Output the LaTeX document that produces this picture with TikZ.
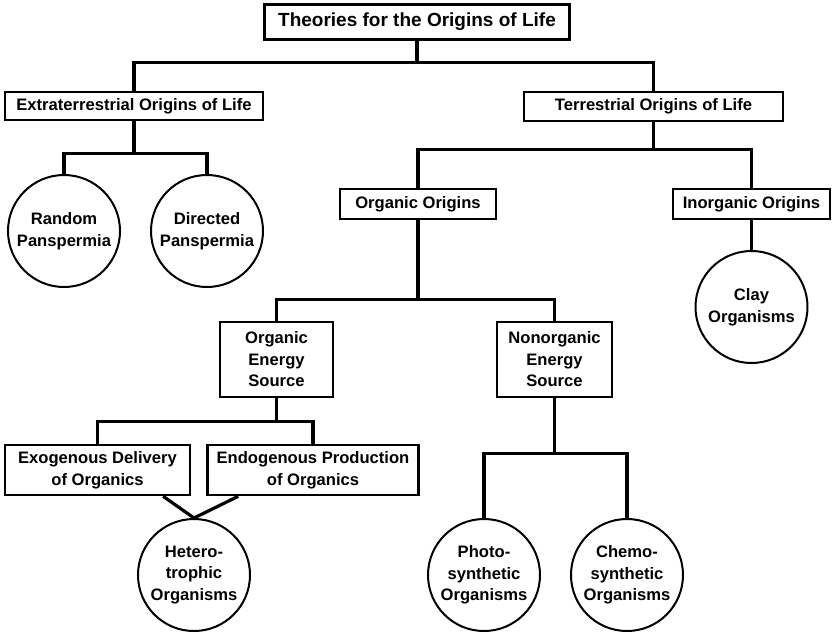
\documentclass[tikz,border=0pt]{standalone}
\usepackage{fontspec}
\setmainfont{Liberation Sans}
\usetikzlibrary{positioning,calc}

\begin{document}
\begin{tikzpicture}[x=1pt, y=-1pt,
    box/.style={draw, line width=2.6pt, inner sep=0pt, align=center,
        font=\fontsize{16.6}{21.5}\selectfont\bfseries},
    orgcircle/.style={draw, circle, line width=2pt, inner sep=0pt,
        minimum size=112pt, align=center,
        font=\fontsize{16.6}{21.5}\selectfont\bfseries},
    link/.style={line width=3.2pt}]
    \useasboundingbox (0,0) rectangle (833,633);

    % top level
    \node[box, minimum width=305pt, minimum height=35pt,
        font=\fontsize{19}{23}\selectfont\bfseries] (title) at (417,22) {Theories for the Origins of Life};
    \node[box, minimum width=258pt, minimum height=28pt] (extra) at (134,106) {Extraterrestrial Origins of Life};
    \node[box, minimum width=259pt, minimum height=29pt] (terr) at (653.5,106.5) {Terrestrial Origins of Life};

    % extraterrestrial branch
    \node[orgcircle] (random) at (64,231) {Random\\Panspermia};
    \node[orgcircle] (directed) at (207,231) {Directed\\Panspermia};

    % terrestrial branch
    \node[box, minimum width=156pt, minimum height=30pt] (orgorig) at (418,204) {Organic Origins};
    \node[box, minimum width=157pt, minimum height=30pt] (inorg) at (751.5,204) {Inorganic Origins};
    \node[orgcircle] (clay) at (751.5,307) {Clay\\Organisms};

    \node[box, minimum width=113pt, minimum height=75pt] (orgen) at (276.5,359.5) {Organic\\Energy\\Source};
    \node[box, minimum width=115pt, minimum height=75pt] (nonorg) at (554.5,359.5) {Nonorganic\\Energy\\Source};

    \node[box, minimum width=185pt, minimum height=50pt] (exo) at (97.5,470) {Exogenous Delivery\\of Organics};
    \node[box, minimum width=211pt, minimum height=50pt] (endo) at (313,470) {Endogenous Production\\of Organics};
    \node[orgcircle] (hetero) at (194,575) {Hetero-\\trophic\\Organisms};

    \node[orgcircle] (photo) at (484,575) {Photo-\\synthetic\\Organisms};
    \node[orgcircle] (chemo) at (627,575) {Chemo-\\synthetic\\Organisms};

    % connectors
    \draw[link] (title.south) -- ++(0,22) -| (extra.north);
    \draw[link] (title.south) -- ++(0,22) -| (terr.north);
    \draw[link] (extra.south) -- ++(0,32) -| (random.north);
    \draw[link] (extra.south) -- ++(0,32) -| (directed.north);
    \draw[link] (terr.south) -- ++(0,27) -| (orgorig.north);
    \draw[link] (terr.south) -- ++(0,27) -| (inorg.north);
    \draw[link] (inorg.south) -- (clay.north);
    \draw[link] (orgorig.south) -- ++(0,79) -| (orgen.north);
    \draw[link] (orgorig.south) -- ++(0,79) -| (nonorg.north);
    \draw[link] (orgen.south) -- ++(0,23) -| (exo.north);
    \draw[link] (orgen.south) -- ++(0,23) -| (endo.north);
    \draw[link] ($(exo.south)!0.7!(exo.south east)$) -- (hetero.north);
    \draw[link] ($(endo.south west)!0.3!(endo.south)$) -- (hetero.north);
    \draw[link] (nonorg.south) -- ++(0,55) -| (photo.north);
    \draw[link] (nonorg.south) -- ++(0,55) -| (chemo.north);
\end{tikzpicture}
\end{document}
